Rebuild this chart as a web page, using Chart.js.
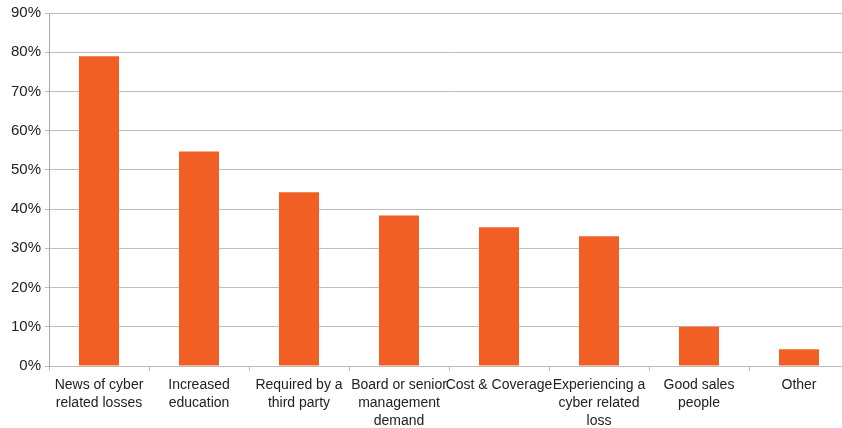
<!DOCTYPE html>
<html>
<head>
<meta charset="utf-8">
<script src="https://cdn.jsdelivr.net/npm/chart.js@4/dist/chart.umd.min.js"></script>
<style>
    html, body { margin: 0; padding: 0; background: #fff; overflow: hidden; }
    canvas { display: block; }
</style>
</head>
<body>
<canvas id="chart" width="849" height="428"></canvas>
<script>
// ============================================================
// DADOS
// ============================================================

const categorias = [
    ['News of cyber', 'related losses'],
    ['Increased', 'education'],
    ['Required by a', 'third party'],
    ['Board or senior', 'management', 'demand'],
    ['Cost & Coverage'],
    ['Experiencing a', 'cyber related', 'loss'],
    ['Good sales', 'people'],
    ['Other']
];
const valores = [79.0, 54.7, 44.3, 38.4, 35.4, 33.1, 10.0, 4.3];
const yMin = 0;
const yMax = 90;
const yPasso = 10;

const corBarra = '#F15F24';
const corGrade = '#BDBDBD';
const corTexto = '#222222';
const fonteX = { family: '"Liberation Sans", Arial, sans-serif', size: 14, lineHeight: 18 / 14 };
const fonteY = { family: '"Liberation Sans", Arial, sans-serif', size: 15 };

// ============================================================
// GRÁFICO
// ============================================================

const ctx = document.getElementById('chart').getContext('2d');

new Chart(ctx, {
    type: 'bar',
    data: {
        labels: categorias,
        datasets: [{
            data: valores,
            backgroundColor: corBarra,
            borderWidth: 0,
            barPercentage: 0.4,
            categoryPercentage: 1.0
        }]
    },
    options: {
        responsive: false,
        animation: false,
        layout: { padding: { top: 13, right: 0, bottom: 0, left: 0 } },
        plugins: {
            legend: { display: false },
            tooltip: { enabled: false }
        },
        scales: {
            x: {
                offset: true,
                grid: {
                    display: true,
                    drawOnChartArea: false,
                    drawTicks: true,
                    tickLength: 5,
                    color: corGrade
                },
                border: { display: false },
                ticks: {
                    color: corTexto,
                    font: fonteX,
                    padding: 5,
                    maxRotation: 0,
                    autoSkip: false
                },
                afterFit: s => { s.height = 62; }
            },
            y: {
                min: yMin,
                max: yMax,
                grid: {
                    color: corGrade,
                    tickLength: 4
                },
                border: { display: true, color: '#A6A6A6' },
                ticks: {
                    stepSize: yPasso,
                    color: corTexto,
                    font: fonteY,
                    padding: 4,
                    callback: v => v + '%'
                },
                afterFit: s => { s.width = 49; }
            }
        }
    }
});
</script>
</body>
</html>
